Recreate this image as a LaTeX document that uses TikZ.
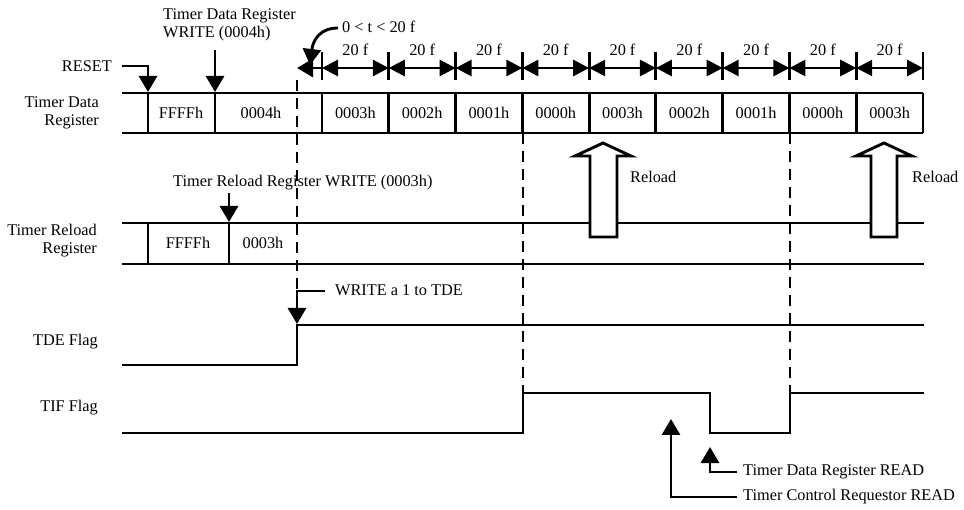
\documentclass[tikz,border=0pt]{standalone}
\usepackage{fontspec}
\setmainfont{Liberation Serif}
\usetikzlibrary{arrows.meta}
\begin{document}
\begin{tikzpicture}[x=1pt,y=-1pt,
  ln/.style={line width=2.9pt},
  dsh/.style={line width=2.9pt, dash pattern=on 11pt off 7pt},
  tip/.style={-{Triangle[length=16pt,width=18pt]}},
  dbl/.style={{Triangle[length=16pt,width=16pt]}-{Triangle[length=16pt,width=16pt]}},
  lbl/.style={font=\fontsize{16.3}{18}\selectfont, inner sep=0pt},
  hollow/.style={line width=2.9pt, fill=white, line join=miter}
]
\useasboundingbox (0,0) rectangle (964,510);

% ---------- Timer Data Register row ----------
\node[lbl, anchor=east, align=right] (tdrlab) at (99,113) {Timer Data\\Register};
\draw[ln] (122,93) -- (923,93);
\draw[ln] (122,133) -- (923,133);
\draw[ln] (148,93) -- (148,133);
\draw[ln] (215,93) -- (215,133);
\node[lbl] (c1) at (181,113) {FFFFh};
\node[lbl] (c2) at (261,113) {0004h};
\foreach \i/\t in {0/0003h,1/0002h,2/0001h,3/0000h,4/0003h,5/0002h,6/0001h,7/0000h,8/0003h}{
  \pgfmathsetmacro{\xa}{322+\i*66.78}
  \pgfmathsetmacro{\xb}{322+(\i+1)*66.78}
  \pgfmathsetmacro{\xm}{322+(\i+0.5)*66.78}
  \node[lbl] (cell\i) at (\xm,113) {\t};
  \draw[ln,dbl] (\xa,68) -- (\xb,68);
  \node[lbl] (dim\i) at (\xm,50) {20 f};
}
\foreach \i in {0,...,9}{
  \pgfmathsetmacro{\xa}{322+\i*66.78}
  \draw[ln] (\xa,93) -- (\xa,133);
  \draw[ln] (\xa,52) -- (\xa,80);
}
\draw[ln,tip] (322,68) -- (297,68);
\node[lbl, anchor=west] (tlab) at (342,27) {0 < t < 20 f};
\draw[ln,tip] (338,28) .. controls (320,28) and (313,40) .. (310,65);

% RESET
\node[lbl, anchor=east] (reset) at (112,66) {RESET};
\draw[ln,tip] (122,66) -| (148,92);
% Timer Data Register WRITE
\node[lbl, anchor=west, align=left] (tdw) at (163,25) {Timer Data Register\\WRITE (0004h)};
\draw[ln,tip] (215,50) -- (215,92);

% ---------- dashed lines ----------
\draw[dsh] (297,80) -- (297,290);
\draw[dsh] (523,133) -- (523,393);
\draw[dsh] (790,133) -- (790,393);

% ---------- Timer Reload Register row ----------
\node[lbl, anchor=east, align=right] (trrlab) at (97,241) {Timer Reload\\Register};
\draw[ln] (122,223) -- (924,223);
\draw[ln] (122,264) -- (924,264);
\draw[ln] (148,223) -- (148,264);
\draw[ln] (229,223) -- (229,264);
\node[lbl] (r1) at (188,243) {FFFFh};
\node[lbl] (r2) at (263,243) {0003h};
\node[lbl, anchor=west] (trw) at (173,183) {Timer Reload Register WRITE (0003h)};
\draw[ln,tip] (229,193) -- (229,222);

% Reload hollow arrows
\draw[hollow] (590,237) -- (590,156) -- (575,156) -- (603,143) -- (631,156) -- (617,156) -- (617,237) -- cycle;
\node[lbl, anchor=west] (rl1) at (630,177) {Reload};
\draw[hollow] (871,237) -- (871,156) -- (856,156) -- (884,143) -- (912,156) -- (897,156) -- (897,237) -- cycle;
\node[lbl, anchor=west] (rl2) at (912,177) {Reload};

% ---------- TDE Flag ----------
\node[lbl, anchor=east] (tdelab) at (98,342) {TDE Flag};
\draw[ln] (122,365) -- (297,365) -- (297,325) -- (924,325);
\node[lbl, anchor=west] (w1) at (335,290) {WRITE a 1 to TDE};
\draw[ln,tip] (325,291) -| (297,324);

% ---------- TIF Flag ----------
\node[lbl, anchor=east] (tiflab) at (98,408) {TIF Flag};
\draw[ln] (122,433) -- (523,433) -- (523,393) -- (710,393) -- (710,433) -- (790,433) -- (790,393) -- (924,393);

\node[lbl, anchor=west] (tdrr) at (743,472) {Timer Data Register READ};
\draw[ln,tip] (737,472) -| (710,447);
\node[lbl, anchor=west] (tcrr) at (743,497) {Timer Control Requestor READ};
\draw[ln,tip] (737,497) -| (671,419);
\end{tikzpicture}
\end{document}
